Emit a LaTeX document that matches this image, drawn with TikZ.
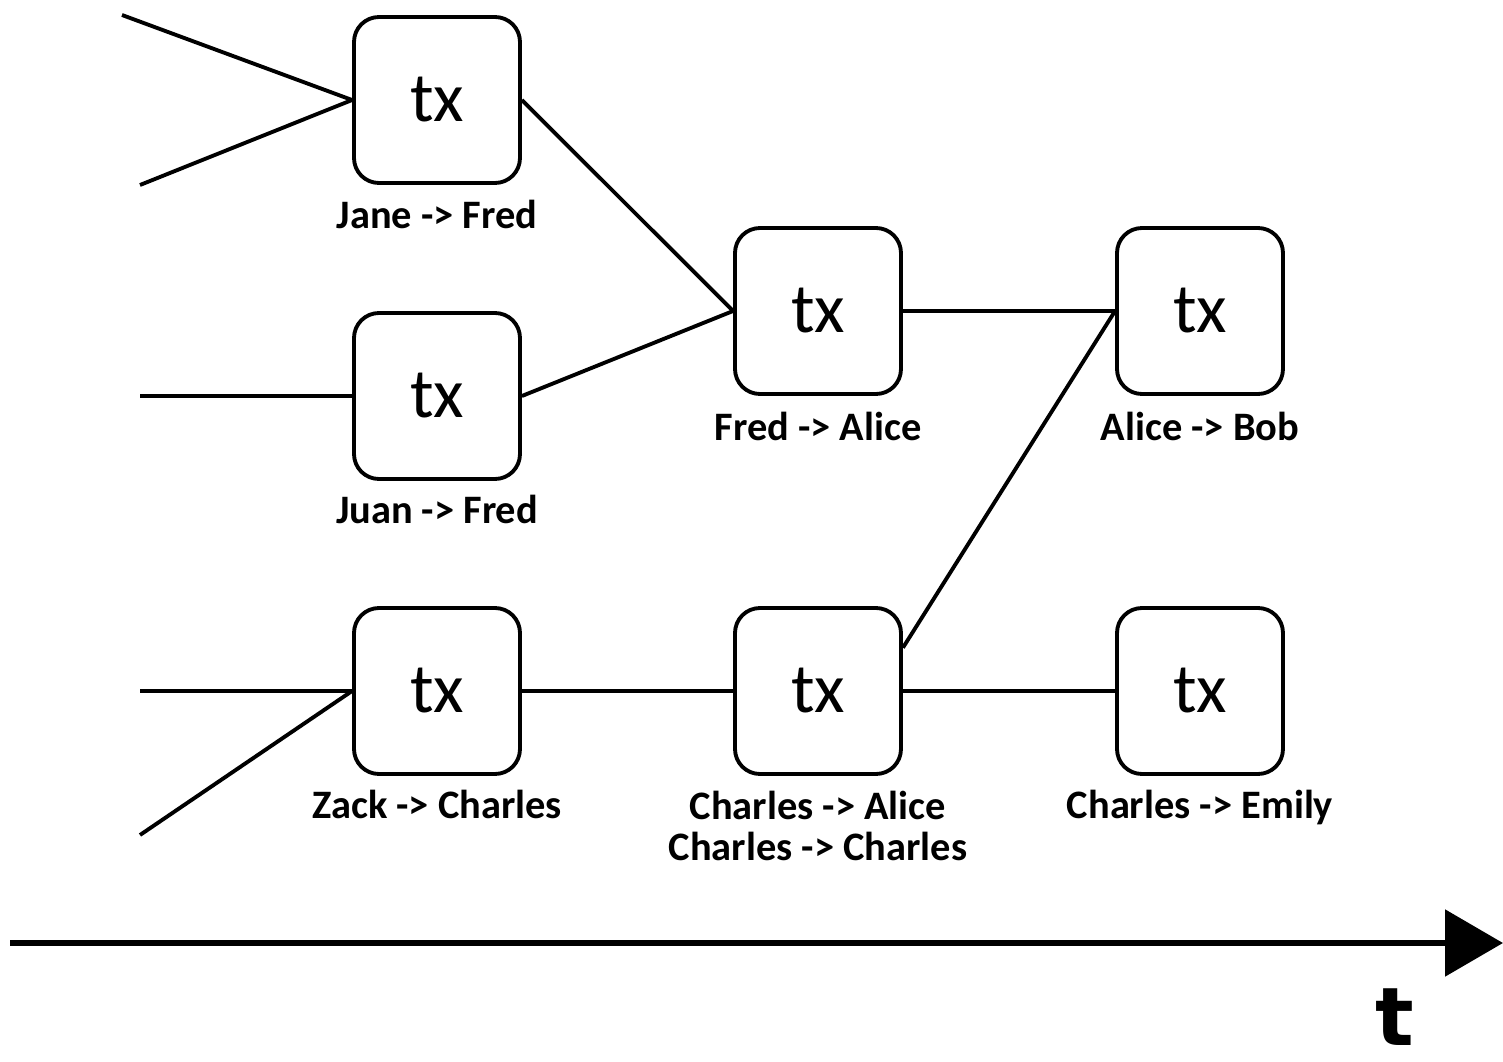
\documentclass[tikz,border=0pt]{standalone}
\usepackage{fontspec}
\setmainfont{Carlito}
\newfontfamily\timefont{DejaVu Sans}
\usetikzlibrary{arrows.meta, shapes}

\begin{document}
\begin{tikzpicture}[
  tx/.style={rectangle, rounded corners=0.25cm, draw, line width=1.1pt,
    minimum size=1.66cm, inner sep=0pt, font=\fontsize{20}{24}\selectfont},
  who/.style={font=\bfseries\fontsize{11.5}{11.7}\selectfont, align=center, inner sep=0pt},
  wire/.style={line width=1.1pt}
]
\useasboundingbox (0,0) rectangle (15.03,10.61);

% transactions
\node[tx] (T1) at (4.37,9.61)  {tx};
\node[tx] (T2) at (4.37,6.65)  {tx};
\node[tx] (T3) at (4.37,3.70)  {tx};
\node[tx] (T4) at (8.18,7.50)  {tx};
\node[tx] (T5) at (8.18,3.70)  {tx};
\node[tx] (T6) at (12.00,7.50) {tx};
\node[tx] (T7) at (12.00,3.70) {tx};

% who pays whom
\node[who, anchor=base] (L1) at (4.37,8.33)  {Jane -> Fred};
\node[who, anchor=base] (L2) at (4.37,5.38)  {Juan -> Fred};
\node[who, anchor=base] (L3) at (4.37,2.43)  {Zack -> Charles};
\node[who, anchor=base] (L4) at (8.18,6.21)  {Fred -> Alice};
\node[who] (L5) at (8.18,2.35)  {Charles -> Alice\\Charles -> Charles};
\node[who, anchor=base] (L6) at (12.00,6.21) {Alice -> Bob};
\node[who, anchor=base] (L7) at (12.00,2.43) {Charles -> Emily};

% earlier inputs
\coordinate (I1) at (1.22,10.46);
\coordinate (I2) at (1.40,8.76);
\coordinate (I3) at (1.40,6.65);
\coordinate (I4) at (1.40,3.70);
\coordinate (I5) at (1.40,2.26);

\draw[wire] (I1) -- (T1.west);
\draw[wire] (I2) -- (T1.west);
\draw[wire] (I3) -- (T2.west);
\draw[wire] (I4) -- (T3.west);
\draw[wire] (I5) -- (T3.west);

\draw[wire] (T1.east) -- (T4.west);
\draw[wire] (T2.east) -- (T4.west);
\draw[wire] (T4.east) -- (T6.west);
\draw[wire] (T3.east) -- (T5.west);
\draw[wire] (T5.27)   -- (T6.west);
\draw[wire] (T5.east) -- (T7.west);

% time axis
\coordinate (A0) at (0.10,1.18);
\coordinate (A1) at (15.03,1.18);
\draw[line width=1.6pt, -{Triangle[length=0.58cm,width=0.66cm]}] (A0) -- (A1);
\node[font=\timefont\bfseries\fontsize{23}{28}\selectfont, inner sep=0pt] (T) at (13.95,0.44) {t};
\end{tikzpicture}
\end{document}
